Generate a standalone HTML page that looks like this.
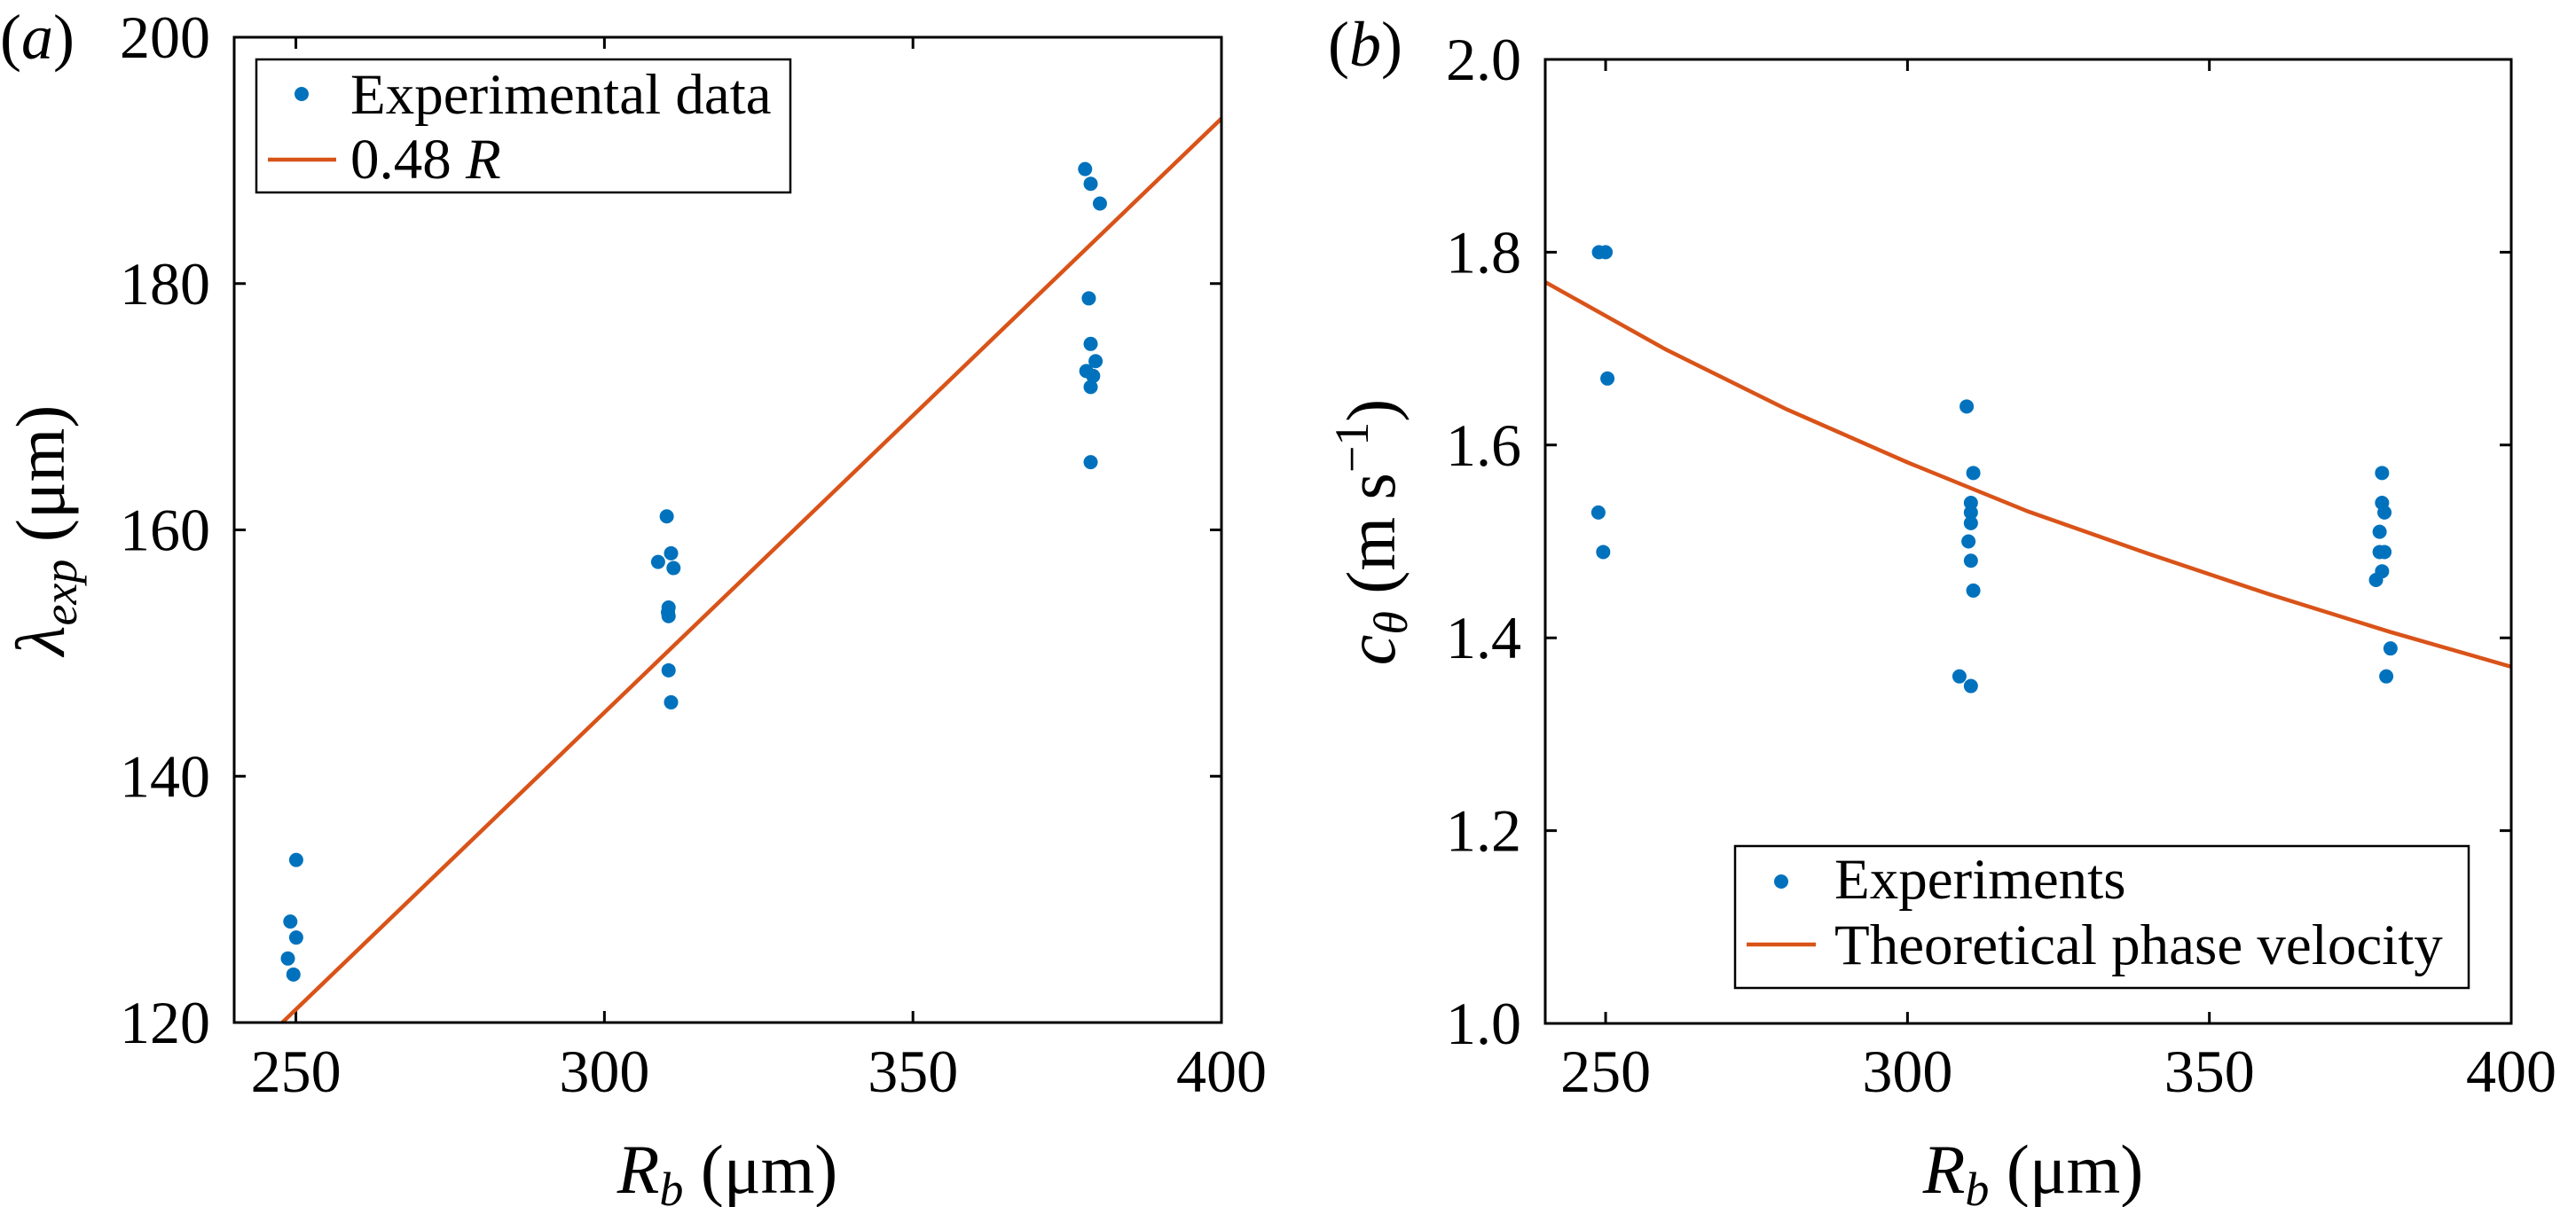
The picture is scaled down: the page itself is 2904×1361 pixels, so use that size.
<!DOCTYPE html>
<html><head><meta charset="utf-8"><style>
html,body{margin:0;padding:0;background:#fff}
svg{display:block}
svg text{font-family:"Liberation Serif","DejaVu Serif",serif !important;fill:#000}
</style></head><body>
<svg id="fig" width="2904" height="1361" viewBox="0 0 2904 1361" xmlns="http://www.w3.org/2000/svg" font-family="Liberation Serif, DejaVu Serif, serif">
<g id="pa"></g>
<g id="pb"></g>
</svg>
<script>
// Panel (a) data
const aXTicks = [250, 300, 350, 400];
const aYTicks = [120, 140, 160, 180, 200];
const aExpX = [250.05, 249.1, 250.05, 248.7, 249.6, 310.1, 308.7, 310.8, 311.2, 310.4, 310.3, 310.4, 310.4, 310.8, 377.9, 378.8, 380.3, 378.5, 378.8, 379.6, 378.1, 379.2, 378.8, 378.8];
const aExpY = [133.2, 128.2, 126.9, 125.2, 123.9, 161.1, 157.4, 158.1, 156.9, 153.7, 153.3, 153.0, 148.6, 146.0, 189.3, 188.1, 186.5, 178.8, 175.1, 173.7, 172.9, 172.5, 171.6, 165.5];
const aLineX = [247.8, 400];
const aLineY = [120, 193.4];
// Panel (b) data
const bXTicks = [250, 300, 350, 400];
const bYTicks = [1.0, 1.2, 1.4, 1.6, 1.8, 2.0];
const bExpX = [248.9, 250.0, 250.3, 248.8, 249.6, 309.8, 310.9, 310.5, 310.5, 310.5, 310.1, 310.5, 310.9, 308.6, 310.5, 378.6, 378.6, 379.0, 378.2, 378.2, 379.0, 378.6, 377.6, 380.0, 379.3];
const bExpY = [1.80, 1.80, 1.669, 1.530, 1.489, 1.640, 1.571, 1.540, 1.530, 1.519, 1.500, 1.480, 1.449, 1.360, 1.350, 1.571, 1.540, 1.530, 1.510, 1.489, 1.489, 1.469, 1.460, 1.389, 1.360];
const bCurveX = [240, 260, 280, 300, 320, 340, 360, 380, 400];
const bCurveY = [1.769, 1.699, 1.637, 1.582, 1.531, 1.487, 1.445, 1.406, 1.370];

const NS = "http://www.w3.org/2000/svg";
const BLUE = "#0072BD", ORANGE = "#D95319";
const FONT = "Liberation Serif, DejaVu Serif, serif";
function mk(parent, tag, attrs) {
  const e = document.createElementNS(NS, tag);
  for (const k in attrs) e.setAttribute(k, attrs[k]);
  parent.appendChild(e);
  return e;
}
function txt(parent, x, y, parts, size, anchor) {
  const t = mk(parent, "text", {x: x, y: y, "font-size": size, "text-anchor": anchor || "start", "font-family": FONT});
  if (typeof parts === "string") parts = [[parts, {}]];
  parts.forEach(p => {
    const s = mk(t, "tspan", {"font-family": FONT});
    for (const k in p[1]) s.setAttribute(k, p[1][k]);
    s.textContent = p[0];
  });
  return t;
}
function panel(g, cfg) {
  const sx = v => cfg.L + (v - cfg.x0) / (cfg.x1 - cfg.x0) * (cfg.R - cfg.L);
  const sy = v => cfg.B - (v - cfg.y0) / (cfg.y1 - cfg.y0) * (cfg.B - cfg.T);
  const axes = mk(g, "g", {});
  
  
  const TL = 13;
  cfg.xt.forEach(v => {
    const x = sx(v);
    const tk = mk(axes, "path", {d: `M${x},${cfg.B}v${-TL}M${x},${cfg.T}v${TL}`, stroke: "#000", "stroke-width": 3, fill: "none"});
    
    
    const lb = txt(axes, x, 1231, String(v), 68, "middle");
    
    
  });
  cfg.yt.forEach(v => {
    const y = sy(v);
    const tk = mk(axes, "path", {d: `M${cfg.L},${y}h${TL}M${cfg.R},${y}h${-TL}`, stroke: "#000", "stroke-width": 3, fill: "none"});
    
    
    const lb = txt(axes, cfg.L - 27, y + 23, cfg.fmt(v), 68, "end");
    
    
  });
  const clipId = "clip" + cfg.id;
  const cp = mk(g, "clipPath", {id: clipId});
  mk(cp, "rect", {x: cfg.L, y: cfg.T, width: cfg.R - cfg.L, height: cfg.B - cfg.T});
  const pts = cfg.lx.map((v, i) => sx(v) + "," + sy(cfg.ly[i])).join(" ");
  const ln = mk(g, "polyline", {points: pts, fill: "none", stroke: ORANGE, "stroke-width": 4.5, "clip-path": `url(#${clipId})`});
  
  
  cfg.ex.forEach((v, i) => {
    const c = mk(g, "circle", {cx: sx(v), cy: sy(cfg.ey[i]), r: 8, fill: BLUE});
    
    
  });
  const box = mk(g, "rect", {x: cfg.L, y: cfg.T, width: cfg.R - cfg.L, height: cfg.B - cfg.T, fill: "none", stroke: "#000", "stroke-width": 3});
  
  
  return {sx, sy};
}
const ga = document.getElementById("pa");
panel(ga, {id: "a", L: 264, R: 1377, T: 42, B: 1153, x0: 240, x1: 400, y0: 120, y1: 200,
  xt: aXTicks, yt: aYTicks, fmt: v => String(v), ex: aExpX, ey: aExpY, lx: aLineX, ly: aLineY});
const gb = document.getElementById("pb");
panel(gb, {id: "b", L: 1742, R: 2831, T: 67, B: 1154, x0: 240, x1: 400, y0: 1.0, y1: 2.0,
  xt: bXTicks, yt: bYTicks, fmt: v => v.toFixed(1), ex: bExpX, ey: bExpY, lx: bCurveX, ly: bCurveY});

const I = {"font-style": "italic"};
let t;
t = txt(ga, 0, 66, [["(", {}], ["a", I], [")", {}]], 72);  
t = txt(ga, 820, 1345, [["R", I], ["b", {"font-style": "italic", "font-size": 54, dy: 14}], [" (\u03bcm)", {dy: -14}]], 78, "middle");
 
t = txt(ga, 0, 0, [["\u03bb", I], ["exp", {"font-style": "italic", "font-size": 54, dy: 14}], [" (\u03bcm)", {dy: -14}]], 78, "middle");
t.setAttribute('transform', 'translate(72,598) rotate(-90)');
 
const legA = mk(ga, "g", {});
 
mk(legA, "rect", {x: 289, y: 67, width: 602, height: 150, fill: "#fff", stroke: "#000", "stroke-width": 2.5});
mk(legA, "circle", {cx: 340, cy: 106, r: 8, fill: BLUE});
mk(legA, "line", {x1: 302, y1: 180, x2: 379, y2: 180, stroke: ORANGE, "stroke-width": 4.5});
txt(legA, 395, 128, "Experimental data", 65);
txt(legA, 395, 201, [["0.48 ", {}], ["R", I]], 65);

t = txt(gb, 1497, 74, [["(", {}], ["b", I], [")", {}]], 72);  
t = txt(gb, 2292, 1345, [["R", I], ["b", {"font-style": "italic", "font-size": 54, dy: 14}], [" (\u03bcm)", {dy: -14}]], 78, "middle");
 
t = txt(gb, 0, 0, [["c", I], ["\u03b8", {"font-style": "italic", "font-size": 54, dy: 14}], [" (m s", {dy: -14}], ["\u22121", {"font-size": 54, dy: -30}], [")", {dy: 30}]], 78, "middle");
t.setAttribute('transform', 'translate(1572,600) rotate(-90)');
 
const legB = mk(gb, "g", {});
 
mk(legB, "rect", {x: 1956, y: 954, width: 827, height: 160, fill: "#fff", stroke: "#000", "stroke-width": 2.5});
mk(legB, "circle", {cx: 2008, cy: 994, r: 8, fill: BLUE});
mk(legB, "line", {x1: 1969, y1: 1065, x2: 2047, y2: 1065, stroke: ORANGE, "stroke-width": 4.5});
txt(legB, 2068, 1013, "Experiments", 65);
txt(legB, 2068, 1087, "Theoretical phase velocity", 65);
</script>
</body></html>
